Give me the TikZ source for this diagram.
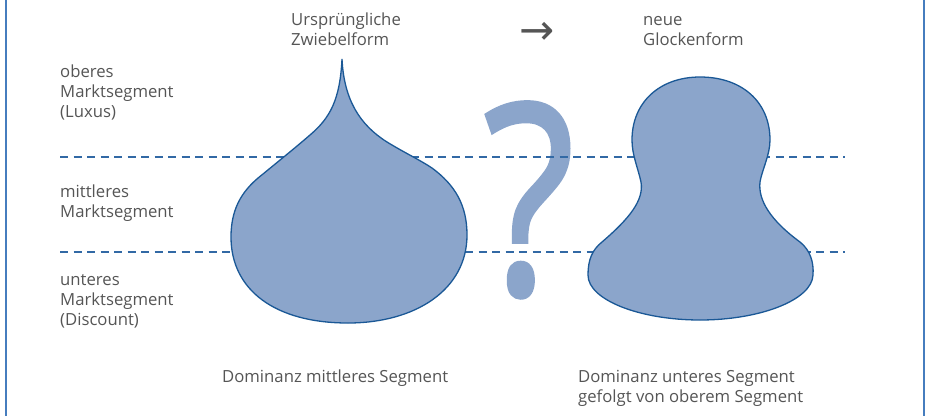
\documentclass[tikz,border=0pt]{standalone}
\usepackage{fontspec}
\setmainfont{Open Sans}
\newfontfamily\symfont{DejaVu Sans}
\newfontfamily\qfont[FakeBold=1.5]{Open Sans}
\definecolor{shapefill}{RGB}{139,165,203}
\definecolor{shapeline}{RGB}{26,88,150}
\definecolor{dashcol}{RGB}{50,105,165}
\definecolor{txtgrey}{RGB}{85,85,85}
\definecolor{framecol}{RGB}{70,125,190}
\tikzset{
  lbl/.style={anchor=base west, inner sep=0pt, text=txtgrey, font=\fontsize{16.7}{20}\selectfont},
  botlbl/.style={anchor=base west, inner sep=0pt, text=txtgrey, font=\fontsize{16.7}{20}\selectfont},
  segline/.style={draw=dashcol, line width=1.4pt, dash pattern=on 8pt off 5.5pt},
  blob/.style={fill=shapefill, draw=shapeline, line width=1.3pt},
  framel/.style={draw=framecol, line width=2pt}
}
\begin{document}
\begin{tikzpicture}[x=1pt,y=-1pt]
\useasboundingbox (0,0) rectangle (927,416);
% frame
\coordinate (fl1) at (6,0); \coordinate (fl2) at (6,416);
\coordinate (fr1) at (924,0); \coordinate (fr2) at (924,416);
\draw[framel] (fl1) -- (fl2);
\draw[framel] (fr1) -- (fr2);
% question mark
\node[anchor=base, inner sep=0pt, text=shapefill, xscale=0.8, font=\qfont\fontsize{265}{265}\selectfont] (qm) at (529,294) {?};
% dashed segment lines
\coordinate (d1a) at (60,157); \coordinate (d1b) at (845,157);
\coordinate (d2a) at (60,252); \coordinate (d2b) at (845,252);
\draw[segline] (d1a) -- (d1b);
\draw[segline] (d2a) -- (d2b);
% onion shape
\path[blob] (342,59) .. controls (344,100) and (360,125) .. (387,142)
  .. controls (405,153) and (420,160) .. (432,168)
  .. controls (455,185) and (467,205) .. (467,235)
  .. controls (467,290) and (415,323) .. (348,323)
  .. controls (275,323) and (231,290) .. (231,237)
  .. controls (231,205) and (245,188) .. (263,174)
  .. controls (280,160) and (295,148) .. (310,135)
  .. controls (330,118) and (340,100) .. (342,59) -- cycle;
% bell shape
\path[blob] (700,77) .. controls (742,77) and (770,102) .. (770,140)
  .. controls (770,155) and (762,170) .. (760,182)
  .. controls (758,200) and (770,220) .. (800,242)
  .. controls (810,250) and (814,262) .. (813,275)
  .. controls (812,300) and (760,320) .. (700,320)
  .. controls (640,320) and (588,300) .. (588,275)
  .. controls (588,260) and (592,250) .. (602,242)
  .. controls (630,218) and (644,200) .. (641,182)
  .. controls (638,168) and (632,155) .. (632,140)
  .. controls (632,102) and (660,77) .. (700,77) -- cycle;
% left labels
\node[lbl] (o1) at (60,77) {oberes};
\node[lbl] (o2) at (60,97) {Marktsegment};
\node[lbl] (o3) at (60,117) {(Luxus)};
\node[lbl] (m1) at (60,197) {mittleres};
\node[lbl] (m2) at (60,217) {Marktsegment};
\node[lbl] (u1) at (60,285) {unteres};
\node[lbl] (u2) at (60,305) {Marktsegment};
\node[lbl] (u3) at (60,325) {(Discount)};
% top labels
\node[lbl] (t1) at (291,25) {Ursprüngliche};
\node[lbl] (t2) at (291,45) {Zwiebelform};
\node[lbl] (n1) at (643,25) {neue};
\node[lbl] (n2) at (643,45) {Glockenform};
\node[anchor=center, inner sep=0pt, text=txtgrey, font=\symfont\fontsize{42}{42}\selectfont] (arr) at (537,33) {→};
% bottom labels
\node[botlbl] (b1) at (222,382) {Dominanz mittleres Segment};
\node[botlbl] (b2) at (578,382) {Dominanz unteres Segment};
\node[botlbl] (b3) at (578,402) {gefolgt von oberem Segment};
\end{tikzpicture}
\end{document}
